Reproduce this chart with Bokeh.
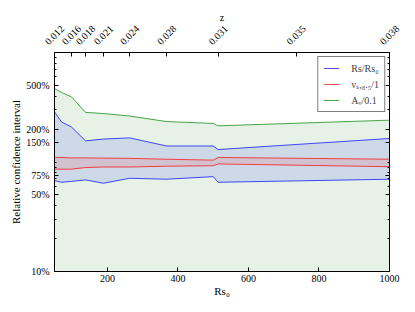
from math import pi
from bokeh.plotting import figure
from bokeh.layouts import column
from bokeh.models import (Range1d, LinearAxis, LogAxis, FixedTicker, Legend, LegendItem)
from bokeh.core.properties import value
from bokeh.embed import file_html
from bokeh.resources import INLINE

# Data (percent)
rs0 = [50, 70, 98, 138, 189, 263, 368, 500, 514, 1000]
green_hi = [468, 432, 394, 284, 277, 263, 234, 225, 214, 241]
green_lo = [1, 1, 1, 1, 1, 1, 1, 1, 1, 1]
blue_hi = [287, 232, 209, 156, 162, 166, 140, 140, 130, 164]
blue_lo = [67.6, 65.3, 66.5, 68.6, 64, 71, 69.6, 73.5, 65.3, 69.6]
red_hi = [110, 110, 109, 109, 108.5, 108, 106, 104, 110, 106]
red_lo = [86, 86, 86, 89, 90, 90, 91.5, 92.5, 96, 90.6]

z_pos = [50, 98, 138, 189, 263, 368, 514, 735, 1000]
z_labels = ["0.012", "0.016", "0.018", "0.021", "0.024", "0.028", "0.031", "0.035", "0.038"]

y_ticks = [10, 50, 75, 150, 200, 500]
y_labels = ["10%", "50%", "75%", "150%", "200%", "500%"]
y_minor = [20, 30, 40, 60, 70, 80, 90, 100, 300, 400, 600, 700, 800, 900, 1000]
x_ticks = [200, 400, 600, 800, 1000]

FONT = "Liberation Serif"
BLUE = (0, 0, 255)
RED = (255, 0, 0)
GREEN = (0, 128, 0)

X0, X1 = 50, 1000
Y0, Y1 = 10, 1000
FRAME_W, FRAME_H = 335, 219
BORDER_L, BORDER_R = 54, 17
TOP_H, GAP = 48, 4
LABEL_RISE = 17.5   # centre of the rotated z labels above the main frame (px)
PAD_L = 20          # how far the top label strip reaches left of the main frame
UNIT = (X1 - X0) / FRAME_W

# ---- main plot ----
p = figure(frame_width=FRAME_W, frame_height=FRAME_H,
           x_range=Range1d(X0, X1), y_range=Range1d(Y0, Y1),
           y_axis_type="log", output_backend="svg", toolbar_location=None,
           min_border_left=BORDER_L, min_border_right=BORDER_R, min_border_top=GAP,
           min_border_bottom=30, frame_align=False)
p.grid.visible = False
p.outline_line_color = "black"
p.outline_line_width = 1
p.background_fill_color = "white"

p.varea(x=rs0, y1=green_lo, y2=green_hi, fill_color=GREEN, fill_alpha=0.1)
p.varea(x=rs0, y1=blue_lo, y2=blue_hi, fill_color=BLUE, fill_alpha=0.1)
p.varea(x=rs0, y1=red_lo, y2=red_hi, fill_color=RED, fill_alpha=0.1)

lb = p.line(rs0, blue_hi, line_color=BLUE, line_alpha=0.7, line_width=1)
p.line(rs0, blue_lo, line_color=BLUE, line_alpha=0.7, line_width=1)
lr = p.line(rs0, red_hi, line_color=RED, line_alpha=0.7, line_width=1)
p.line(rs0, red_lo, line_color=RED, line_alpha=0.7, line_width=1)
lg = p.line(rs0, green_hi, line_color=GREEN, line_alpha=0.7, line_width=1)

legend = Legend(items=[LegendItem(label="Rs/Rs₀", renderers=[lb]),
                       LegendItem(label="vₛ,₈.₅/1", renderers=[lr]),
                       LegendItem(label="Aᵥ/0.1", renderers=[lg])],
                location="top_right", border_line_color="black", border_line_width=1,
                label_text_font=FONT, label_text_font_size="10px",
                glyph_width=16, glyph_height=10, spacing=3, padding=5,
                margin=4, label_standoff=12, label_height=12)
p.add_layout(legend)

def style(ax):
    ax.axis_line_color = "black"
    ax.major_tick_in = 4
    ax.major_tick_out = 0
    ax.minor_tick_in = 2
    ax.minor_tick_out = 0
    ax.major_label_text_font = FONT
    ax.major_label_text_font_size = "10px"
    ax.major_label_text_color = "black"
    ax.axis_label_text_font = FONT
    ax.axis_label_text_font_size = "11px"
    ax.axis_label_text_font_style = "normal"
    ax.axis_label_text_color = "black"

xa = p.xaxis[0]
style(xa)
xa.ticker = FixedTicker(ticks=x_ticks)
xa.axis_label = "Rs₀"
xa.axis_label_standoff = 0
xa.major_label_standoff = 3

ya = p.yaxis[0]
style(ya)
ya.ticker = FixedTicker(ticks=y_ticks, minor_ticks=y_minor)
ya.major_label_overrides = {t: l for t, l in zip(y_ticks, y_labels)}
ya.axis_label = "Relative confidence interval"
ya.axis_label_standoff = 1

ra = LogAxis(ticker=FixedTicker(ticks=y_ticks, minor_ticks=y_minor))
style(ra)
ra.major_label_overrides = {t: "" for t in y_ticks}
ra.major_label_standoff = 0
p.add_layout(ra, "right")

# top axis of the main plot: tick marks only at the z positions
tt = LinearAxis(ticker=FixedTicker(ticks=z_pos))
style(tt)
tt.major_label_overrides = {t: "" for t in z_pos}
tt.major_label_standoff = 0
tt.major_label_text_font_size = "1px"
p.add_layout(tt, "above")

# ---- strip above the plot holding the rotated z labels and the "z" title ----
top = figure(frame_width=FRAME_W + PAD_L + BORDER_R, frame_height=TOP_H,
             x_range=Range1d(X0 - PAD_L * UNIT, X1 + BORDER_R * UNIT),
             y_range=Range1d(0, 1), output_backend="svg", toolbar_location=None,
             x_axis_location=None, y_axis_location=None,
             min_border_left=BORDER_L - PAD_L, min_border_right=0,
             min_border_top=0, min_border_bottom=0, frame_align=False)
top.grid.visible = False
top.outline_line_color = None
top.background_fill_color = "white"
top.border_fill_color = "white"

top.text(x=z_pos, y=[0] * len(z_pos), text=z_labels, angle=pi / 4,
         text_align="center", text_baseline="middle", y_offset=-(LABEL_RISE - GAP),
         text_font=value(FONT), text_font_size="10px", text_color="black")
top.text(x=[(X0 + X1) / 2], y=[1], text=["z"], text_align="center",
         text_baseline="middle", y_offset=17, text_font=value(FONT),
         text_font_size="10px", text_color="black")

layout = column(top, p, spacing=0)
open("out.html", "w").write(file_html(layout, INLINE))
